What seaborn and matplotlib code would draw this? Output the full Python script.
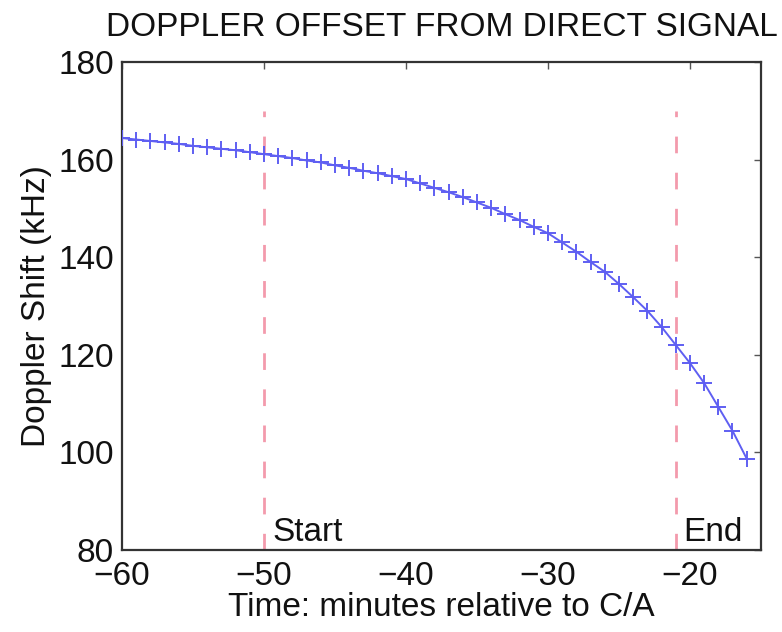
import matplotlib
matplotlib.use("Agg")
import matplotlib.pyplot as plt
import seaborn as sns
import pandas as pd

# Doppler shift samples, one per minute before closest approach
minutes = [-60, -59, -58, -57, -56, -55, -54, -53, -52, -51,
           -50, -49, -48, -47, -46, -45, -44, -43, -42, -41,
           -40, -39, -38, -37, -36, -35, -34, -33, -32, -31,
           -30, -29, -28, -27, -26, -25, -24, -23, -22, -21,
           -20, -19, -18, -17, -16]
doppler_khz = [164.4, 164.1, 163.8, 163.5, 163.2, 162.8, 162.5, 162.2, 161.9, 161.5,
               161.1, 160.7, 160.3, 159.8, 159.4, 158.8, 158.3, 157.7, 157.2, 156.6,
               156.0, 155.1, 154.2, 153.3, 152.3, 151.2, 150.1, 148.8, 147.6, 146.2,
               144.9, 143.0, 141.1, 139.0, 137.0, 134.5, 131.8, 129.0, 125.7, 122.0,
               118.3, 114.2, 109.3, 104.4, 98.7]

# Observation window markers
event_labels = ["Start", "End"]
event_times = [-50.0, -21.0]
label_times = [-49.4, -20.5]

x_ticks = [-60, -50, -40, -30, -20]
y_ticks = [80, 100, 120, 140, 160, 180]

sns.set_style("white")
plt.rcParams["font.family"] = ["Liberation Sans", "DejaVu Sans"]

FS = 24

fig = plt.figure(figsize=(7.82, 6.32), dpi=100)
ax = fig.add_axes([0.156, 0.130, 0.817, 0.772])

df = pd.DataFrame({"minutes": minutes, "doppler": doppler_khz})

ax.vlines(event_times, 80, 170, colors="#f39aac", linestyles=(0, (6, 7)),
          linewidth=2.0, zorder=1)
sns.lineplot(data=df, x="minutes", y="doppler", ax=ax, color="#5f5ff2",
             linewidth=1.4, marker="+", markersize=12, markeredgewidth=1.4,
             markeredgecolor="#5f5ff2", zorder=3)

for lbl, t in zip(event_labels, label_times):
    ax.text(t, 81.9, lbl, fontsize=FS, color="#111111", ha="left", va="baseline")

ax.set_xlim(-60, -15)
ax.set_ylim(80, 180)
ax.set_xticks(x_ticks)
ax.set_yticks(y_ticks)
ax.set_xticklabels([f"\u2212{abs(v)}" for v in x_ticks])
ax.tick_params(direction="in", length=5, width=1.0, colors="#555555",
               labelcolor="#111111", labelsize=FS, top=True, right=True)
ax.tick_params(axis="x", pad=8)
ax.tick_params(axis="y", pad=6)

for s in ax.spines.values():
    s.set_visible(True)
    s.set_color("#333333")
    s.set_linewidth(1.6)

ax.set_title("DOPPLER OFFSET FROM DIRECT SIGNAL", fontsize=FS, color="#111111", pad=19)
ax.set_xlabel("Time: minutes relative to C/A", fontsize=FS, color="#111111", labelpad=0)
ax.set_ylabel("Doppler Shift (kHz)", fontsize=FS, color="#111111", labelpad=4)

fig.savefig("out.png", dpi=100, facecolor="white")
